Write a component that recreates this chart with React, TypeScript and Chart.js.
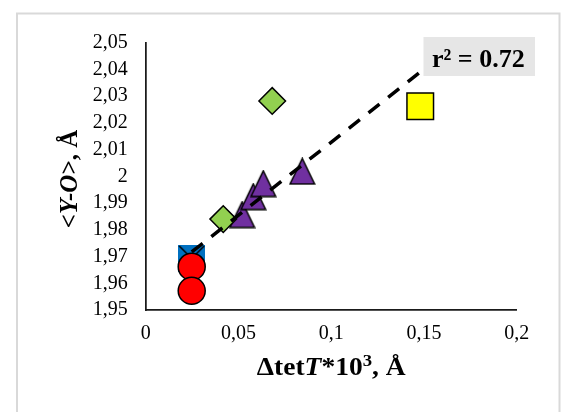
import React, { useEffect, useRef } from 'react';
import { Chart, registerables } from 'chart.js';

Chart.register(...registerables);

// ---- data ----
const xTickLabels = ['0', '0,05', '0,1', '0,15', '0,2'];
const yTickLabels = ['1,95', '1,96', '1,97', '1,98', '1,99', '2', '2,01', '2,02', '2,03', '2,04', '2,05'];

const blueX = [0.0248];
const blueY = [1.9693];
const redX = [0.0248, 0.0248];
const redY = [1.9662, 1.9572];
const greenX = [0.0418, 0.0682];
const greenY = [1.984, 2.0282];
const purpleX = [0.052, 0.058, 0.0634, 0.0844];
const purpleY = [1.9857, 1.9924, 1.9973, 2.0019];
const yellowX = [0.148];
const yellowY = [2.0262];
const trendX = [0.0248, 0.148];
const trendY = [1.9717, 2.039];

const rSquaredLabel = 'r² = 0.72';

const pts = (xs: number[], ys: number[]) => xs.map((x, i) => ({ x, y: ys[i] }));

const SERIF = '"Liberation Serif", "Times New Roman", serif';

function makeTriangle(): HTMLCanvasElement {
  const c = document.createElement('canvas');
  const W = 27, H = 28;
  c.width = W; c.height = H;
  const g = c.getContext('2d')!;
  g.beginPath();
  g.moveTo(W / 2, 1.2);
  g.lineTo(W - 1.2, H - 1.2);
  g.lineTo(1.2, H - 1.2);
  g.closePath();
  g.fillStyle = '#7030a0';
  g.fill();
  g.lineWidth = 1.5;
  g.strokeStyle = '#000';
  g.stroke();
  return c;
}

function makeXSquare(): HTMLCanvasElement {
  const c = document.createElement('canvas');
  const S = 27;
  c.width = S; c.height = S;
  const g = c.getContext('2d')!;
  g.fillStyle = '#0070c0';
  g.fillRect(0, 0, S, S);
  g.strokeStyle = '#000';
  g.lineWidth = 1.5;
  g.beginPath();
  g.moveTo(1, 1); g.lineTo(S - 1, S - 1);
  g.moveTo(S - 1, 1); g.lineTo(1, S - 1);
  g.stroke();
  return c;
}

type Run = { t: string; f: string; dy?: number };

function runsWidth(ctx: CanvasRenderingContext2D, runs: Run[]) {
  let w = 0;
  for (const r of runs) { ctx.font = r.f; w += ctx.measureText(r.t).width; }
  return w;
}
function drawRuns(ctx: CanvasRenderingContext2D, runs: Run[], x: number, y: number) {
  let cx = x;
  for (const r of runs) {
    ctx.font = r.f;
    ctx.fillText(r.t, cx, y + (r.dy || 0));
    cx += ctx.measureText(r.t).width;
  }
}

const decorPlugin = {
  id: 'decor',
  beforeDraw(chart: any) {
    const ctx = chart.ctx as CanvasRenderingContext2D;
    ctx.save();
    ctx.strokeStyle = '#d9d9d9';
    ctx.lineWidth = 2;
    ctx.strokeRect(17, 13.5, 542.5, 500);
    ctx.restore();
  },
  afterDraw(chart: any) {
    const ctx = chart.ctx as CanvasRenderingContext2D;
    const area = chart.chartArea;
    ctx.save();
    ctx.fillStyle = '#000';
    ctx.textBaseline = 'alphabetic';
    ctx.textAlign = 'left';

    // x title
    const B = `bold 25px ${SERIF}`;
    const BI = `italic bold 25px ${SERIF}`;
    const xRuns: Run[] = [
      { t: 'Δtet', f: B },
      { t: 'T', f: BI },
      { t: '*10', f: B },
      { t: '3', f: `bold 17px ${SERIF}`, dy: -9 },
      { t: ', Å', f: B },
    ];
    const xw = runsWidth(ctx, xRuns);
    const xc = (area.left + area.right) / 2;
    ctx.save();
    ctx.translate(xc, 375);
    ctx.scale(1.1, 1);
    drawRuns(ctx, xRuns, -xw / 2, 0);
    ctx.restore();

    // y title
    const yRuns: Run[] = [
      { t: '<', f: B },
      { t: 'Y-O', f: BI },
      { t: '>, Å', f: B },
    ];
    const yw = runsWidth(ctx, yRuns);
    ctx.save();
    ctx.translate(77, 179);
    ctx.rotate(-Math.PI / 2);
    drawRuns(ctx, yRuns, -yw / 2, 0);
    ctx.restore();

    // r² label
    ctx.fillStyle = '#e6e6e6';
    ctx.fillRect(423.5, 37, 111.5, 39);
    ctx.fillStyle = '#000';
    ctx.font = `bold 26px ${SERIF}`;
    ctx.fillText(rSquaredLabel, 432, 67);
    ctx.restore();
  },
};

export default function App() {
  const ref = useRef<HTMLCanvasElement>(null);
  useEffect(() => {
    if (!ref.current) return;
    const tri = makeTriangle();
    const xsq = makeXSquare();
    const chart = new Chart(ref.current, {
      type: 'scatter',
      data: {
        datasets: [
          {
            label: 'trend',
            data: pts(trendX, trendY),
            showLine: true,
            borderColor: '#000',
            borderWidth: 3.5,
            borderDash: [14, 11],
            pointRadius: 0,
            fill: false,
            order: 0,
          },
          {
            label: 'red',
            data: pts(redX, redY),
            pointStyle: 'circle',
            pointRadius: 13.5,
            backgroundColor: '#ff0000',
            borderColor: '#000',
            borderWidth: 1.5,
            order: 1,
          },
          {
            label: 'blue',
            data: pts(blueX, blueY),
            pointStyle: xsq as any,
            pointRadius: 13,
            backgroundColor: '#0070c0',
            borderColor: '#000',
            order: 2,
          },
          {
            label: 'green',
            data: pts(greenX, greenY),
            pointStyle: 'rectRot',
            pointRadius: 13.3,
            backgroundColor: '#92d050',
            borderColor: '#000',
            borderWidth: 1.5,
            order: 2,
          },
          {
            label: 'yellow',
            data: pts(yellowX, yellowY),
            pointStyle: 'rect',
            pointRadius: 18.8,
            backgroundColor: '#ffff00',
            borderColor: '#000',
            borderWidth: 1.5,
            order: 2,
          },
          {
            label: 'purple',
            data: pts(purpleX, purpleY),
            pointStyle: tri as any,
            pointRadius: 13,
            backgroundColor: '#7030a0',
            borderColor: '#000',
            order: 3,
          },
        ],
      },
      options: {
        responsive: false,
        animation: false,
        devicePixelRatio: 1,
        events: [],
        layout: { padding: { left: 0, right: 45.3, top: 42.7, bottom: 0 } },
        plugins: { legend: { display: false }, tooltip: { enabled: false }, title: { display: false } },
        scales: {
          x: {
            type: 'linear',
            min: 0,
            max: 0.2,
            ticks: {
              stepSize: 0.05,
              padding: 12,
              color: '#000',
              autoSkip: false,
              font: { family: SERIF, size: 20 },
              callback: (_v: any, i: number) => xTickLabels[i] ?? '',
              maxRotation: 0,
            },
            grid: { display: false, drawTicks: false },
            border: { display: true, color: '#1a1a1a', width: 1.75 },
            afterFit: (s: any) => { s.height = 102; },
          },
          y: {
            type: 'linear',
            min: 1.95,
            max: 2.05,
            ticks: {
              stepSize: 0.01,
              padding: 18,
              color: '#000',
              autoSkip: false,
              font: { family: SERIF, size: 20 },
              callback: (_v: any, i: number) => yTickLabels[i] ?? '',
            },
            grid: { display: false, drawTicks: false },
            border: { display: true, color: '#1a1a1a', width: 1.75 },
            afterFit: (s: any) => { s.width = 145.7; },
          },
        },
      },
      plugins: [decorPlugin],
    });
    return () => chart.destroy();
  }, []);
  return (
    <div style={{ position: 'absolute', left: 0, top: 0, width: 562, height: 412, background: '#fff' }}>
      <canvas ref={ref} width={562} height={412} style={{ display: 'block' }} />
    </div>
  );
}
